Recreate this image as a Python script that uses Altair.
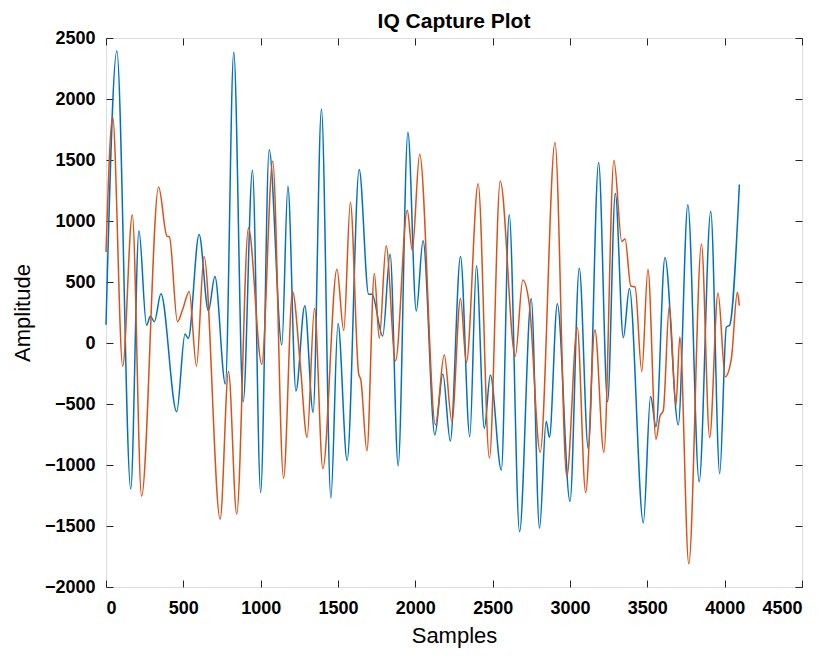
import altair as alt
import pandas as pd

# I channel (blue) – sample index and amplitude
i_samples = [0, 70, 160, 213, 262, 287, 313, 355, 457, 511, 532, 602, 662, 704, 772, 826, 887, 947,
             1000, 1055, 1137, 1176, 1228, 1285, 1339, 1393, 1454, 1500, 1559, 1637, 1698, 1720, 1789,
             1837, 1889, 1952, 2006, 2050, 2126, 2178, 2226, 2292, 2352, 2395, 2446, 2485, 2556, 2607,
             2674, 2749, 2803, 2846, 2867, 2918, 3000, 3060, 3118, 3185, 3243, 3293, 3345, 3384, 3474,
             3521, 3556, 3614, 3700, 3762, 3835, 3910, 3968, 4011, 4032, 4095]
i_values = [150, 2394, -1197, 920, 146, 219, 175, 403, -563, 73, 38, 890, 263, 546, -336, 2386, -482, 1416,
            -1226, 1583, -15, 1284, -394, 306, -569, 1918, -1270, 160, -963, 1422, 400, 400, 58,
            730, -1007, 1728, 263, 838, -753, -254, -803, 709, -768, 633, -700, -263, -1042, 1051,
            -1547, 365, -1518, -642, -773, 321, -1299, 613, -867, 1480, -482, 1226, 44, 447, -1474,
            -438, -686, 701, -671, 1133, -1138, 1080, -1071, 131, 146, 1299]

# Q channel (orange)
q_samples = [0, 43, 108, 170, 230, 340, 394, 410, 462, 496, 538, 585, 634, 738, 792, 845, 921, 1007,
             1078, 1148, 1206, 1256, 1300, 1348, 1402, 1493, 1537, 1580, 1633, 1648, 1687, 1735, 1767,
             1811, 1872, 1948, 1980, 2028, 2130, 2187, 2236, 2292, 2330, 2406, 2479, 2549, 2646, 2695,
             2738, 2807, 2903, 2979, 3047, 3101, 3161, 3219, 3284, 3335, 3356, 3393, 3421, 3464, 3504,
             3556, 3582, 3603, 3642, 3685, 3710, 3768, 3850, 3903, 3957, 4004, 4043, 4082, 4095]
q_values = [745, 1854, -190, 1051, -1256, 1279, 876, 870, 175, 277, 423, -190, 710, -1445, -234, -1402, 943, -175,
            1490, -1109, 423, -175, -774, 283, -1030, 604, 102, 1153, -248, -307, -884, 569, 38,
            797, -146, 1089, 759, 1547, -671, -96, -642, 365, -161, 1305, -943, 1328, -108, 517,
            306, -896, 1643, -1095, 125, -1226, 108, -896, 1497, 832, 852, 467, 458, -234, 604,
            -788, -598, -555, 306, -511, 50, -1810, 811, -774, 409, -277, -131, 415, 306]

series_names = ["I", "Q"]
series_colors = ["#0072BD", "#D95319"]
x_ticks = [0, 500, 1000, 1500, 2000, 2500, 3000, 3500, 4000, 4500]
y_ticks = [-2000, -1500, -1000, -500, 0, 500, 1000, 1500, 2000, 2500]

df = pd.concat([
    pd.DataFrame({"Samples": i_samples, "Amplitude": i_values, "series": "I", "order": range(len(i_samples))}),
    pd.DataFrame({"Samples": q_samples, "Amplitude": q_values, "series": "Q", "order": range(len(q_samples))}),
])

FONT = "Liberation Sans Narrow, Liberation Sans, Arial, sans-serif"
TICK = 7
AX = "#262626"

xscale = alt.Scale(domain=[0, 4500], nice=False, zero=False)
yscale = alt.Scale(domain=[-2000, 2500], nice=False, zero=False)

common_axis = dict(grid=False, domain=False, tickSize=TICK, offset=-TICK, tickColor=AX, format="d",
                   tickWidth=1, labelFont=FONT, labelFontSize=18, labelFontWeight="bold",
                   labelColor="#000000", titleFont=FONT, titleFontSize=22, titleFontWeight="normal",
                   titleColor="#000000")

lines = alt.Chart(df).mark_line(strokeWidth=1.5, interpolate="monotone").encode(
    x=alt.X("Samples:Q", scale=xscale,
            axis=alt.Axis(orient="bottom", values=x_ticks, labelPadding=12, titlePadding=8, **common_axis)),
    y=alt.Y("Amplitude:Q", scale=yscale,
            axis=alt.Axis(orient="left", values=y_ticks, labelPadding=11, titlePadding=10, **common_axis)),
    color=alt.Color("series:N", scale=alt.Scale(domain=series_names, range=series_colors), legend=None),
    order="order:Q",
)

frame_axes = alt.Chart(df).mark_line(strokeOpacity=0).encode(
    x=alt.X("Samples:Q", scale=xscale,
            axis=alt.Axis(orient="top", values=x_ticks, labels=False, title=None,
                          grid=False, domain=False, tickSize=TICK, offset=-TICK, tickColor=AX)),
    y=alt.Y("Amplitude:Q", scale=yscale,
            axis=alt.Axis(orient="right", values=y_ticks, labels=False, title=None,
                          grid=False, domain=False, tickSize=TICK, offset=-TICK, tickColor=AX)),
    detail="series:N",
    order="order:Q",
)

chart = alt.layer(frame_axes, lines).resolve_axis(x="independent", y="independent").properties(
    width=696,
    height=549,
    title=alt.TitleParams("IQ Capture Plot", font="Liberation Sans, Arial, sans-serif", fontSize=21,
                          fontWeight="bold", color="#000000", anchor="middle", offset=-3),
    autosize=alt.AutoSizeParams(type="none"),
    padding={"left": 98, "top": 30, "right": 10, "bottom": 64},
).configure_view(
    stroke=AX, strokeWidth=1.2, fill="white"
).configure(background="white")

chart.save("out.html", embed_options={"renderer": "svg", "actions": False})
